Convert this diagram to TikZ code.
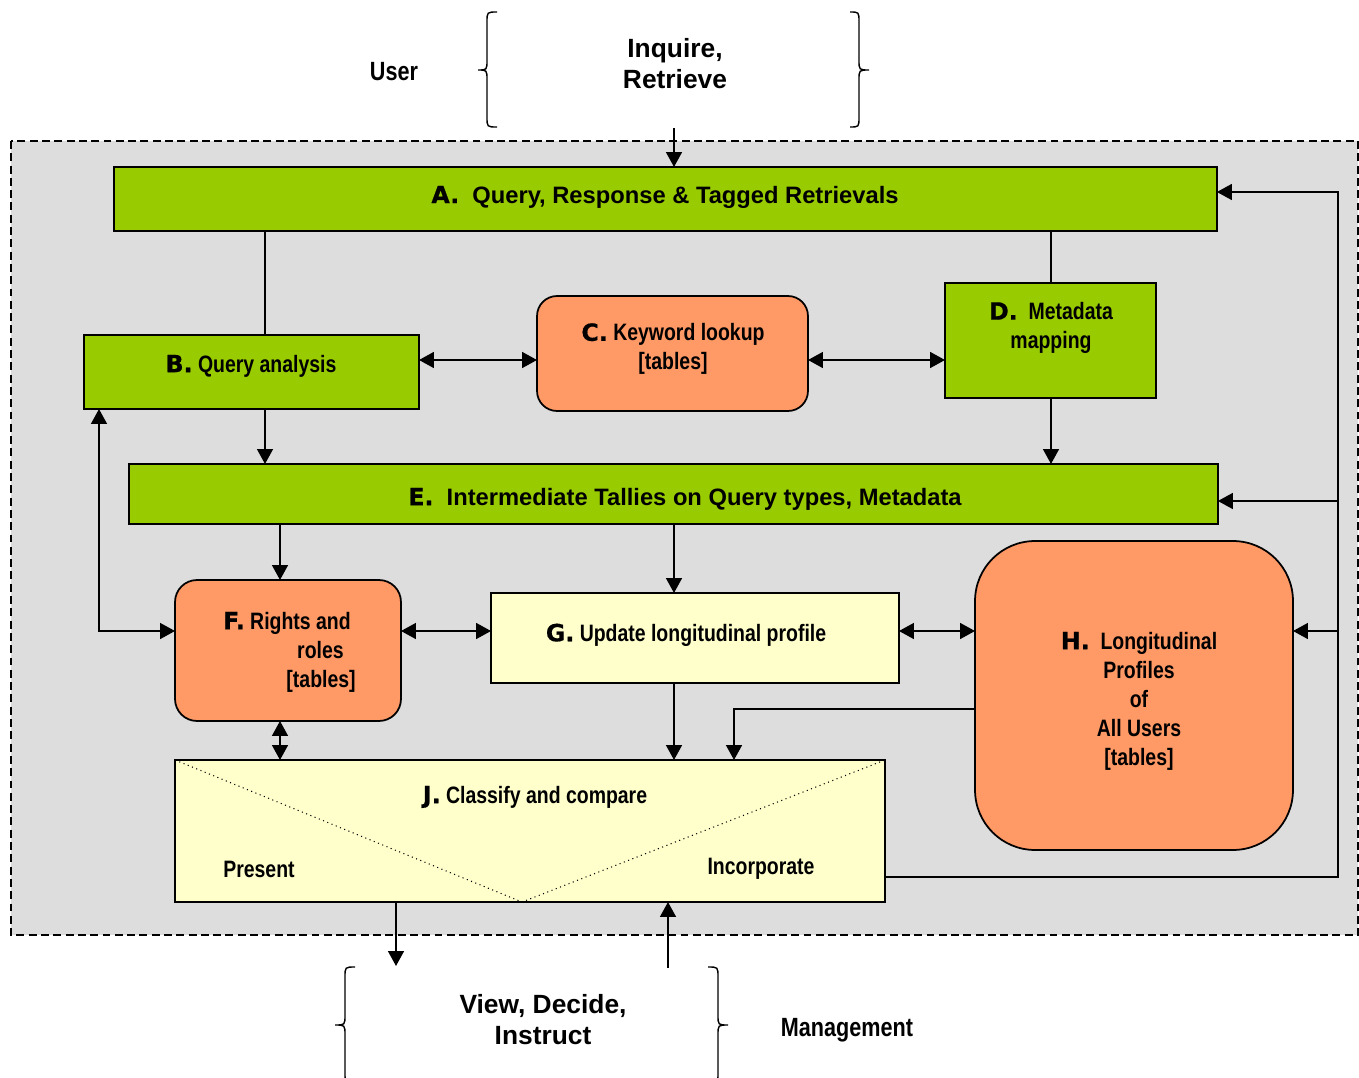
\documentclass[tikz,border=0pt]{standalone}
\usepackage{fontspec}
\setmainfont{Liberation Sans}
\newfontfamily\narrowfont[FakeStretch=0.82]{Liberation Sans}
\newfontfamily\heavyfont[FakeBold=0.6]{DejaVu Sans}
\usetikzlibrary{arrows.meta,calc}

\definecolor{boxgreen}{HTML}{99CC00}
\definecolor{tableorange}{HTML}{FF9966}
\definecolor{paleyellow}{HTML}{FFFFCC}
\definecolor{areagray}{HTML}{DDDDDD}

\newcommand{\stepletter}[1]{{\heavyfont\bfseries #1}}

\begin{document}
\begin{tikzpicture}[x=0.02cm,y=-0.02cm,
    box/.style={draw,line width=1pt,inner sep=0pt,outer sep=0pt},
    greenbox/.style={box,fill=boxgreen},
    tablebox/.style={box,fill=tableorange},
    yellowbox/.style={box,fill=paleyellow},
    boxtext/.style={font=\narrowfont\bfseries\fontsize{13.5}{16.5}\selectfont,align=center,inner sep=0pt},
    widetext/.style={font=\bfseries\fontsize{13.5}{16.5}\selectfont,inner sep=0pt},
    actortext/.style={font=\narrowfont\bfseries\fontsize{15}{18}\selectfont,inner sep=0pt},
    actiontext/.style={font=\bfseries\fontsize{15}{17.6}\selectfont,align=center,inner sep=0pt},
    plain/.style={line width=1.1pt},
    link/.style={plain,-{Triangle[length=8.5pt,width=9pt]}},
    twoway/.style={plain,{Triangle[length=8.5pt,width=9pt]}-{Triangle[length=8.5pt,width=9pt]}},
    brace/.style={line width=0.8pt}]
  \useasboundingbox (0,0) rectangle (1359,1078);

  % system area
  \draw[fill=areagray,line width=0.9pt,dash pattern=on 4.5pt off 2.5pt] (11,141) rectangle (1358,935);

  % user and management braces
  \node[actortext] (user) at (394,72) {User};
  \node[actiontext] (inquire) at (675,64) {Inquire,\\Retrieve};
  \draw[brace] (497,12) .. controls (487,12) .. (487,22) -- (487,60) .. controls (487,70) .. (478,70)
    .. controls (487,70) .. (487,80) -- (487,117) .. controls (487,127) .. (497,127);
  \draw[brace] (850,12) .. controls (859,12) .. (859,22) -- (859,60) .. controls (859,70) .. (869,70)
    .. controls (859,70) .. (859,80) -- (859,117) .. controls (859,127) .. (850,127);

  \node[actiontext] (view) at (543,1020) {View, Decide,\\Instruct};
  \node[actortext] (management) at (847,1030) {Management};
  \draw[brace] (355,967) .. controls (345,967) .. (345,977) -- (345,1015) .. controls (345,1025) .. (335,1025)
    .. controls (345,1025) .. (345,1035) -- (345,1073) .. controls (345,1083) .. (355,1083);
  \draw[brace] (708,967) .. controls (718,967) .. (718,977) -- (718,1015) .. controls (718,1025) .. (728,1025)
    .. controls (718,1025) .. (718,1035) -- (718,1073) .. controls (718,1083) .. (708,1083);

  % boxes
  \node[greenbox,minimum width=22.06cm,minimum height=1.28cm] (A) at (665.5,199) {};
  \node[widetext] (A-text) at (665,197) {\stepletter{A.}\ \ Query, Response \& Tagged Retrievals};

  \node[greenbox,minimum width=6.70cm,minimum height=1.48cm] (B) at (251.5,372) {};
  \node[boxtext] (B-text) at (251,366) {\stepletter{B.} Query analysis};

  \node[tablebox,rounded corners=0.4cm,minimum width=5.42cm,minimum height=2.30cm] (C) at (672.5,353.5) {};
  \node[boxtext] (C-text) at (673,349) {\stepletter{C.} Keyword lookup\\{}[tables]};

  \node[greenbox,minimum width=4.22cm,minimum height=2.30cm] (D) at (1050.5,340.5) {};
  \node[boxtext] (D-text) at (1051,328) {\stepletter{D.}\ \ Metadata\\mapping};

  \node[greenbox,minimum width=21.78cm,minimum height=1.20cm] (E) at (673.5,494) {};
  \node[widetext] (E-text) at (685,499) {\stepletter{E.}\ \ Intermediate Tallies on Query types, Metadata};

  \node[tablebox,rounded corners=0.44cm,minimum width=4.52cm,minimum height=2.82cm] (F) at (288,650.5) {};
  \node[boxtext,align=right,anchor=east] (F-text) at (356,652) {\stepletter{F.} Rights and\rule{2.8pt}{0pt}\\roles\rule{6.8pt}{0pt}\\{}[tables]};

  \node[yellowbox,minimum width=8.16cm,minimum height=1.80cm] (G) at (695,638) {};
  \node[boxtext] (G-text) at (686,635) {\stepletter{G.} Update longitudinal profile};

  \node[tablebox,rounded corners=1.2cm,minimum width=6.36cm,minimum height=6.18cm] (H) at (1134,695.5) {};
  \node[boxtext] (H-text) at (1139,701) {\stepletter{H.}\ \ Longitudinal\\Profiles\\of\\All Users\\{}[tables]};

  \node[yellowbox,minimum width=14.20cm,minimum height=2.84cm] (J) at (530,831) {};
  \coordinate (Jtip) at (522,902);
  \draw[dotted,line width=0.6pt] (J.north west) -- (Jtip) -- (J.north east);
  \node[boxtext] (J-text) at (535,797) {\stepletter{J.} Classify and compare};
  \node[boxtext] (present) at (259,869) {Present};
  \node[boxtext] (incorporate) at (761,869) {Incorporate};

  % columns and rows of the connectors
  \coordinate (colL) at (99,0);
  \coordinate (colB) at (265,0);
  \coordinate (colF) at (280,0);
  \coordinate (colM) at (674,0);
  \coordinate (colH) at (734,0);
  \coordinate (colD) at (1051,0);
  \coordinate (colR) at (1338,0);
  \coordinate (rowA) at (0,192);
  \coordinate (rowC) at (0,360);
  \coordinate (rowE) at (0,501);
  \coordinate (rowG) at (0,631);
  \coordinate (rowH) at (0,709);
  \coordinate (rowJ) at (0,877);
  \coordinate (inq) at (674,128);
  \coordinate (out) at (396,966);
  \coordinate (back) at (668,968);

  % connectors
  \draw[link] (inq) -- (inq |- A.north);
  \draw[plain] (colB |- A.south) -- (colB |- B.north);
  \draw[plain] (colD |- A.south) -- (colD |- D.north);
  \draw[twoway] (B.east |- rowC) -- (C.west |- rowC);
  \draw[twoway] (C.east |- rowC) -- (D.west |- rowC);
  \draw[link] (colB |- B.south) -- (colB |- E.north);
  \draw[link] (colD |- D.south) -- (colD |- E.north);
  \draw[link] (colF |- E.south) -- (colF |- F.north);
  \draw[link] (colM |- E.south) -- (colM |- G.north);
  \draw[twoway] (F.west |- rowG) -- (colL |- rowG) -- (colL |- B.south);
  \draw[twoway] (F.east |- rowG) -- (G.west |- rowG);
  \draw[twoway] (G.east |- rowG) -- (H.west |- rowG);
  \draw[twoway] (colF |- F.south) -- (colF |- J.north);
  \draw[link] (colM |- G.south) -- (colM |- J.north);
  \draw[link] (H.west |- rowH) -- (colH |- rowH) -- (colH |- J.north);
  \draw[link] (J.east |- rowJ) -- (colR |- rowJ) -- (colR |- rowA) -- (A.east |- rowA);
  \draw[link] (colR |- rowE) -- (E.east |- rowE);
  \draw[link] (colR |- rowG) -- (H.east |- rowG);
  \draw[link] (out |- J.south) -- (out);
  \draw[link] (back) -- (back |- J.south);
\end{tikzpicture}
\end{document}
